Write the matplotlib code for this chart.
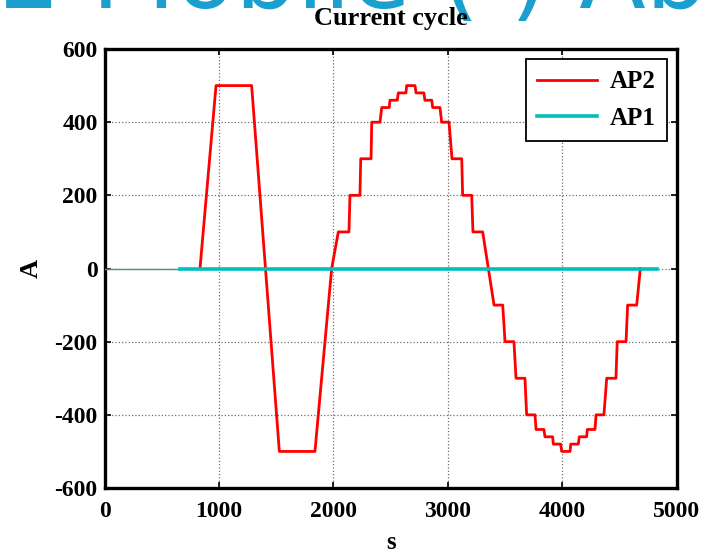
import numpy as np
import matplotlib
matplotlib.use("Agg")
import matplotlib.pyplot as plt

# AP2 current profile (vertices of the stepped trace)
ap2_t = [834, 974, 1285, 1527, 1838, 1984,
         2042, 2135, 2144, 2231, 2238, 2328, 2334, 2406, 2421, 2487,
         2493, 2557, 2566, 2633, 2639, 2712,
         2721, 2790, 2798, 2858, 2866, 2930, 2945, 3009, 3035, 3120,
         3128, 3207, 3218, 3303,
         3402, 3478, 3498, 3576, 3594, 3672, 3687, 3760, 3769, 3838,
         3847, 3914, 3920, 3984, 3993, 4066,
         4072, 4138, 4147, 4211, 4217, 4284, 4293, 4362, 4386, 4467,
         4478, 4555, 4569, 4648, 4680]
ap2_i = [0, 500, 500, -500, -500, 0,
         100, 100, 200, 200, 300, 300, 400, 400, 440, 440,
         460, 460, 480, 480, 500, 500,
         480, 480, 460, 460, 440, 440, 400, 400, 300, 300,
         200, 200, 100, 100,
         -100, -100, -200, -200, -300, -300, -400, -400, -440, -440,
         -460, -460, -480, -480, -500, -500,
         -480, -480, -460, -460, -440, -440, -400, -400, -300, -300,
         -200, -200, -100, -100, 0]

# AP1 stays at zero
ap1_t = [0, 660, 4825]
ap1_i = [0, 0, 0]

plt.rcParams["font.family"] = ["Liberation Serif", "DejaVu Serif"]
plt.rcParams["font.weight"] = "bold"
plt.rcParams["axes.unicode_minus"] = False

fig = plt.figure(figsize=(7.08, 5.55), dpi=100)
ax = fig.add_axes([0.1476, 0.1207, 0.8086, 0.791])

# slide title behind the chart, only its lower edge shows
fig.text(-0.002, 0.985, "2 Mobile ( ) Above", fontsize=70, color="#1a9fcf",
         family=["DejaVu Sans"], fontweight="normal", ha="left",
         va="baseline", zorder=-1)

ax.plot(ap1_t[:2], ap1_i[:2], color="#4f8f8f", lw=1.0, zorder=3)
ax.plot(ap1_t[1:], ap1_i[1:], color="#00bfbf", lw=2.6, zorder=3)
l2, = ax.plot(ap2_t, ap2_i, color="#ff0000", lw=2.0, zorder=2)
l1, = ax.plot([], [], color="#00bfbf", lw=2.6)

ax.set_xlim(0, 5000)
ax.set_ylim(-600, 600)
ax.set_xticks(range(0, 5001, 1000))
ax.set_yticks(range(-600, 601, 200))
ax.grid(True, color="#707070", ls=":", lw=0.9)
ax.tick_params(direction="in", top=True, right=True, length=4, width=1.2,
               labelsize=17)
ax.tick_params(axis="x", pad=9)
ax.tick_params(axis="y", pad=5)
for sp in ax.spines.values():
    sp.set_linewidth(2.4)

ax.set_title("Current cycle", fontsize=19, fontweight="bold", pad=17)
ax.set_xlabel("s", fontsize=18, fontweight="bold", labelpad=7)
ax.set_ylabel("A", fontsize=19, fontweight="bold", labelpad=8)

leg = ax.legend([l2, l1], ["AP2", "AP1"], loc="upper right", fontsize=18,
                frameon=True, fancybox=False, borderaxespad=0.4,
                handlelength=2.4, labelspacing=0.55, borderpad=0.45,
                handletextpad=0.5, edgecolor="black", framealpha=1)
leg.get_frame().set_linewidth(1.3)
for t in leg.get_texts():
    t.set_fontweight("bold")

fig.savefig("out.png", dpi=100)
